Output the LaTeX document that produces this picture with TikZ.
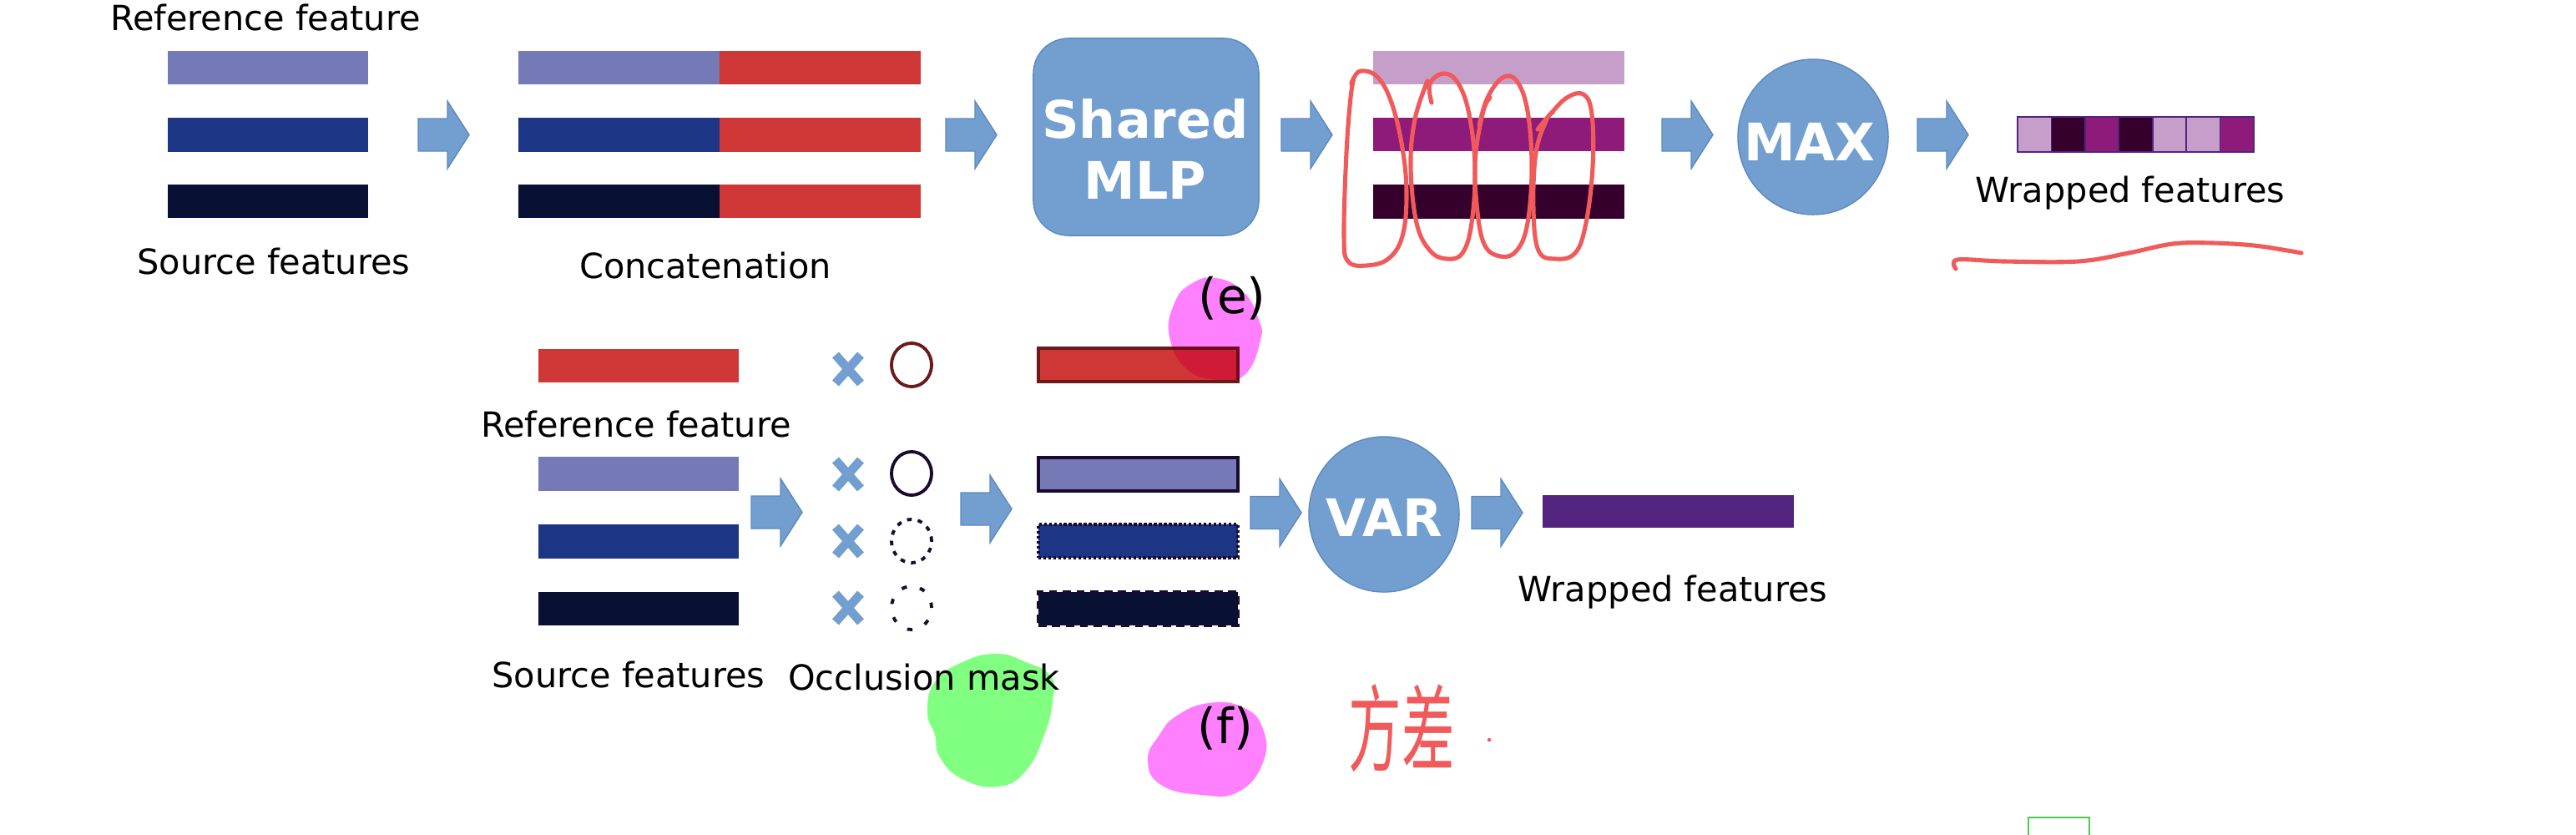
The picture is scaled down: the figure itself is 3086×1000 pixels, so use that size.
\documentclass[tikz,border=0pt]{standalone}
\usepackage{fontspec}
\setmainfont{DejaVu Sans}
\newfontfamily\cjkfont{Noto Sans CJK SC}
\usetikzlibrary{shapes.geometric,calc}
\definecolor{lav}{HTML}{7579B5}
\definecolor{dblue}{HTML}{1C3584}
\definecolor{navy}{HTML}{081033}
\definecolor{fred}{HTML}{CF3736}
\definecolor{lpur}{HTML}{C59FC9}
\definecolor{mpur}{HTML}{8E1A7A}
\definecolor{dpur}{HTML}{36002C}
\definecolor{vpur}{HTML}{52237F}
\definecolor{blk}{HTML}{729FCF}
\definecolor{blkline}{HTML}{5C8AC0}
\definecolor{scrib}{HTML}{F05A5A}
\definecolor{hpink}{HTML}{FF80FF}
\definecolor{hgreen}{HTML}{80FF80}
\definecolor{bred}{HTML}{6B1A1A}
\definecolor{bdark}{HTML}{1A0A30}
\definecolor{citeg}{HTML}{50C850}
\tikzset{
  lbl/.style={anchor=base, inner sep=0pt, font=\fontsize{11.8}{14}\selectfont},
  bigw/.style={anchor=base, inner sep=0pt, text=white, font=\bfseries\fontsize{17.6}{20.8}\selectfont},
  tag/.style={anchor=base, inner sep=0pt, font=\fontsize{16.6}{18}\selectfont},
  bar/.style={draw=none, inner sep=0pt, minimum width=2.4cm, minimum height=0.4cm},
  wbar/.style={draw=none, inner sep=0pt, minimum width=3.01cm, minimum height=0.4cm},
  mbox/.style={inner sep=0pt, minimum width=2.39cm, minimum height=0.40cm, line width=1.1pt},
  cell/.style={draw=vpur, line width=0.5pt, inner sep=0pt, minimum width=0.4043cm, minimum height=0.42cm},
  blkshape/.style={fill=blk, draw=blkline, line width=0.4pt},
  opnode/.style={ellipse, fill=blk, draw=blkline, line width=0.4pt, minimum width=1.8cm, minimum height=1.86cm, inner sep=0pt},
  crossst/.style={draw=blk, line width=3pt},
  circst/.style={ellipse, inner sep=0pt, minimum width=0.48cm, minimum height=0.52cm, line width=1.1pt},
  scribst/.style={draw=scrib, line width=1.45pt, line cap=round, line join=round},
}
\newcommand{\blockarr}[2]{\path[blkshape] (#1,#2) ++(0,-19.5) -- ++(35,0) -- ++(0,-21) -- ++(26,40.5) -- ++(-26,40.5) -- ++(0,-21) -- ++(-35,0) -- cycle;}
\begin{document}
\begin{tikzpicture}[x=0.01cm, y=-0.01cm]
\useasboundingbox (0,0) rectangle (3086,1000);

% ---------------- top row (e) ----------------
\node[lbl] (reftop) at (318,36) {Reference feature};
\node[bar, fill=lav]   (s1) at (321,81) {};
\node[bar, fill=dblue] (s2) at (321,161.5) {};
\node[bar, fill=navy]  (s3) at (321,241) {};
\node[lbl] (srctop) at (328,328) {Source features};

\blockarr{501}{161.5}

\node[bar, minimum width=2.41cm, fill=lav]   (c1a) at (741.5,81) {};
\node[bar, minimum width=2.41cm, fill=fred]  (c1b) at (982.5,81) {};
\node[bar, minimum width=2.41cm, fill=dblue] (c2a) at (741.5,161.5) {};
\node[bar, minimum width=2.41cm, fill=fred]  (c2b) at (982.5,161.5) {};
\node[bar, minimum width=2.41cm, fill=navy]  (c3a) at (741.5,241) {};
\node[bar, minimum width=2.41cm, fill=fred]  (c3b) at (982.5,241) {};
\node[lbl] (concat) at (845,333) {Concatenation};

\blockarr{1133}{161.5}

\node[rectangle, rounded corners=0.42cm, fill=blk, draw=blkline, line width=0.4pt,
      minimum width=2.70cm, minimum height=2.36cm, inner sep=0pt] (mlp) at (1373,164) {};
\node[bigw] (mlpt1) at (1372,165) {Shared};
\node[bigw] (mlpt2) at (1372,238) {MLP};

\blockarr{1535}{161.5}

\node[wbar, fill=lpur] (o1) at (1795.5,81) {};
\node[wbar, fill=mpur] (o2) at (1795.5,161) {};
\node[wbar, fill=dpur] (o3) at (1795.5,241.5) {};

\blockarr{1991}{161.5}

\node[opnode] (max) at (2172,164) {};
\node[bigw] (maxt) at (2168,192) {MAX};

\blockarr{2297}{161.5}

\foreach \c [count=\i from 0] in {lpur,dpur,mpur,dpur,lpur,lpur,mpur}{
  \node[cell, fill=\c] (w\i) at ({2437.2+\i*40.43},161) {};
}
\node[lbl] (wraptop) at (2552,242) {Wrapped features};

% scribbles over the MLP output
\draw[scribst] plot[smooth, tension=0.65] coordinates {(1619,101) (1621,95) (1630,85) (1650,92) (1667,123) (1680,177) (1685,233) (1680,283) (1663,310) (1637,318) (1615,313) (1610,283) (1613,183) (1618,117) (1622,93)};
\draw[scribst] plot[smooth, tension=0.65] coordinates {(1715,123) (1713,100) (1730,88) (1747,100) (1760,137) (1767,200) (1763,267) (1752,303) (1733,310) (1713,300) (1697,267) (1690,200) (1695,143) (1710,97)};
\draw[scribst] plot[smooth, tension=0.65] coordinates {(1772,150) (1782,117) (1800,93) (1817,97) (1830,133) (1835,200) (1830,267) (1817,300) (1797,307) (1777,290) (1768,233) (1768,183) (1777,133) (1785,117)};
\draw[scribst] plot[smooth, tension=0.65] coordinates {(1842,155) (1857,137) (1877,117) (1897,113) (1907,137) (1908,200) (1900,267) (1887,303) (1863,310) (1843,300) (1837,250) (1840,183) (1853,143) (1860,135)};
% underline
\draw[scribst] plot[smooth, tension=0.6] coordinates {(2343,322) (2345,311) (2400,313) (2490,313) (2550,303) (2603,292) (2650,291) (2700,294) (2740,300) (2757,303)};

% ---------------- bottom row (f) ----------------
\node[bar, fill=fred] (rf) at (765,438) {};
\node[lbl] (refbot) at (762,523) {Reference feature};
\node[bar, fill=lav]   (b1) at (765,567.5) {};
\node[bar, fill=dblue] (b2) at (765,648.5) {};
\node[bar, fill=navy]  (b3) at (765,729) {};
\node[lbl] (srcbot) at (753,823) {Source features};

\blockarr{900}{613.5}

\foreach \yy/\nm in {442/x0,568/x1,648/x2,728/x3}{
  \coordinate (\nm) at (1016,\yy);
  \draw[crossst] ($(\nm)+(-15,-17)$) -- ($(\nm)+(15,17)$) ($(\nm)+(-15,17)$) -- ($(\nm)+(15,-17)$);
}
\node[circst, draw=bred] (m0) at (1092,437) {};
\node[circst, draw=bdark] (m1) at (1092,567) {};
\node[circst, draw=bdark, dash pattern=on 1.6pt off 2.1pt] (m2) at (1092,648) {};
\node[circst, draw=bdark, dash pattern=on 1.8pt off 4.6pt] (m3) at (1092,728) {};
\node[lbl] (occ) at (1107,826) {Occlusion mask};

\blockarr{1151}{609.5}

\node[mbox, fill=fred, draw=bred] (k0) at (1363.5,437) {};
\node[mbox, fill=lav, draw=bdark] (k1) at (1363.5,568) {};
\node[mbox, fill=dblue, draw=bdark, dash pattern=on 1pt off 0.7pt] (k2) at (1363.5,648) {};
\node[mbox, fill=navy, draw=bdark, dash pattern=on 2.8pt off 1.9pt] (k3) at (1363.5,729) {};

\blockarr{1498}{614}

\node[opnode] (var) at (1658,616) {};
\node[bigw] (vart) at (1658,642) {VAR};

\blockarr{1763}{614}

\node[wbar, minimum height=0.39cm, fill=vpur] (wb) at (1998.5,612.5) {};
\node[lbl] (wrapbot) at (2004,720) {Wrapped features};

% highlighter blobs
\begin{scope}[blend mode=multiply]
\fill[hpink] plot[smooth cycle, tension=0.8] coordinates {(1457,333) (1490,350) (1508,383) (1510,407) (1493,447) (1463,455) (1423,443) (1401,403) (1407,363) (1427,340)};
\fill[hgreen] plot[smooth cycle, tension=0.8] coordinates {(1194,783) (1229,793) (1259,810) (1261,840) (1251,880) (1229,923) (1196,942) (1153,933) (1126,907) (1120,880) (1111,853) (1120,817) (1153,793)};
\fill[hpink] plot[smooth cycle, tension=0.8] coordinates {(1448,842) (1489,847) (1513,873) (1513,913) (1484,948) (1440,952) (1391,940) (1375,910) (1389,880) (1410,857)};
\end{scope}
\node[tag] (etag) at (1476,375) {(e)};
\node[tag] (ftag) at (1468,890) {(f)};

% handwritten note
\node[inner sep=0pt, text=scrib, font=\cjkfont\fontsize{19}{19}\selectfont] (note) at (1679,872) {\scalebox{0.95}[1.7]{方差}};
\fill[scrib] (1784,886) circle (2.2);

% cut-off caption citation box
\draw[citeg, line width=0.6pt] (2430,1010) -- (2430,979) -- (2503,979) -- (2503,1010);
\end{tikzpicture}
\end{document}
